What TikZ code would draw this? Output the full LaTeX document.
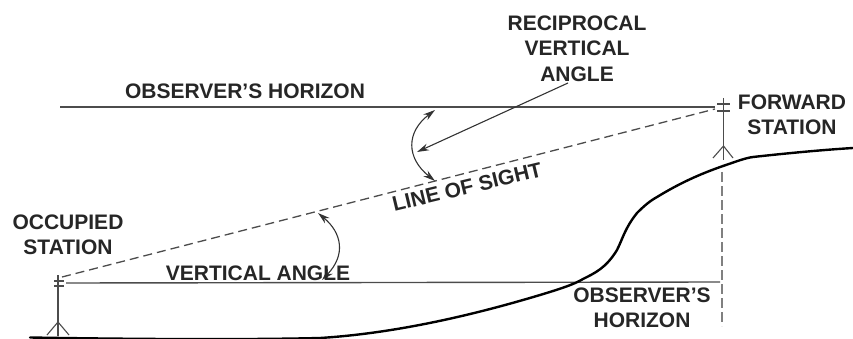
\documentclass[tikz,border=0pt]{standalone}
\usepackage{fontspec}
\setmainfont{Liberation Sans}
\usetikzlibrary{arrows.meta}
\tikzset{
  lbl/.style={font=\bfseries\fontsize{21}{25.5}\selectfont,text=black!85,inner sep=0pt,align=center},
  hor/.style={draw=black!70,line width=1.4pt},
  sight/.style={draw=black!70,line width=1.3pt,dash pattern=on 9pt off 5pt},
  plumb/.style={draw=black!50,line width=1.4pt,dash pattern=on 10pt off 4pt},
  thin line/.style={draw=black!70,line width=1.1pt},
  ground/.style={draw=black,line width=2.4pt,line cap=round},
  arr/.style={draw=black!80,line width=1.1pt,-{Stealth[length=12pt,width=7pt]}},
  arrs/.style={draw=black!80,line width=1.1pt,{Stealth[length=12pt,width=7pt]}-{Stealth[length=12pt,width=7pt]}}
}
\begin{document}
\begin{tikzpicture}[x=1pt,y=-1pt]
\useasboundingbox (0,0) rectangle (853,339);
% named points
\coordinate (lowA) at (66,283);
\coordinate (lowB) at (720,282);
\coordinate (upA) at (60,107);
\coordinate (upB) at (715,107);
\coordinate (losA) at (62,277);
\coordinate (losB) at (715,109);
\coordinate (plumbA) at (722,172);
\coordinate (plumbB) at (722,326);
\coordinate (ltop) at (58,275);
\coordinate (lsplit) at (58,322);
\coordinate (lfootA) at (47,335);
\coordinate (lfootB) at (69,335);
\coordinate (lmid) at (58,336);
\coordinate (rtop) at (723.5,98);
\coordinate (rsplit) at (723.5,146);
\coordinate (rfootA) at (713,158);
\coordinate (rfootB) at (733,158);
\coordinate (rmid) at (723.5,160);
% lines
\draw[hor] (upA) -- (upB);
\draw[hor] (lowA) -- (lowB);
\draw[sight] (losA) -- (losB);
\draw[plumb] (plumbA) -- (plumbB);
% ground
\draw[ground] (30,337.5) .. controls (120,339) and (240,340) .. (320,338)
  .. controls (400,333) and (480,313) .. (540,295)
  .. controls (560,289) and (575,284) .. (583,279)
  .. controls (595,273) and (606,268) .. (617,250)
  .. controls (623,238) and (625,228) .. (637,213)
  .. controls (645,205) and (650,201) .. (657,197)
  .. controls (680,183) and (700,174) .. (723,166)
  .. controls (735,162) and (745,158) .. (753,157)
  .. controls (780,154) and (820,150) .. (853,148);
% stations
\draw[thin line] (ltop) -- (lmid);
\draw[thin line] (54,281) -- (64,281);
\draw[thin line] (54,286) -- (64,286);
\draw[thin line] (lsplit) -- (lfootA);
\draw[thin line] (lsplit) -- (lfootB);
\draw[thin line] (rtop) -- (rmid);
\draw[thin line] (717,104) -- (730,104);
\draw[thin line] (717,111) -- (730,111);
\draw[thin line] (rsplit) -- (rfootA);
\draw[thin line] (rsplit) -- (rfootB);
% arcs
\coordinate (aA) at (318,213);
\coordinate (aB) at (322,280);
\draw[arrs] (aA) .. controls (342,233) and (346,255) .. (aB);
\coordinate (bA) at (435,110);
\coordinate (bB) at (435,181);
\draw[arrs] (bA) .. controls (406,132) and (406,158) .. (bB);
\coordinate (pA) at (568,83);
\coordinate (pB) at (417,152);
\draw[arr] (pA) -- (pB);
% labels
\node[lbl] (oh1) at (245,91) {OBSERVER'S HORIZON};
\node[lbl] (rva) at (577,48.5) {RECIPROCAL\\VERTICAL\\ANGLE};
\node[lbl] (fs) at (792,115) {FORWARD\\STATION};
\node[lbl] (os) at (68,235) {OCCUPIED\\STATION};
\node[lbl] (va) at (258,273) {VERTICAL ANGLE};
\node[lbl,rotate=13.5] (ls) at (467,187) {LINE OF SIGHT};
\node[lbl] (oh2) at (642,308) {OBSERVER'S\\HORIZON};
\end{tikzpicture}
\end{document}
